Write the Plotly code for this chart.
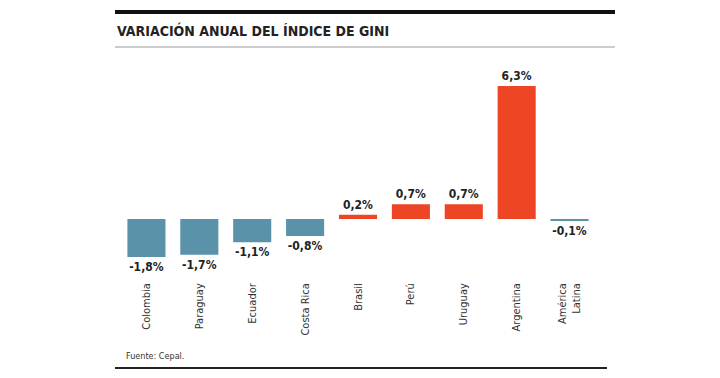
import plotly.graph_objects as go

categories = ["Colombia", "Paraguay", "Ecuador", "Costa Rica", "Brasil", "Perú", "Uruguay", "Argentina", "América<br>Latina"]
values = [-1.8, -1.7, -1.1, -0.8, 0.2, 0.7, 0.7, 6.3, -0.1]
labels = ["-1,8%", "-1,7%", "-1,1%", "-0,8%", "0,2%", "0,7%", "0,7%", "6,3%", "-0,1%"]

BLUE = "#5a92aa"
RED = "#ee4524"
colors = [RED if (v > 0) else BLUE for v in values]

W, H = 720, 378
OFF = 8  # page body margin
ML, PW = 120 - OFF, 476
MT, PB = 70 - OFF, 278 - OFF
PH = PB - MT
ZERO = 219 - OFF
SCALE = 21.1

def px(x):
    return (x - OFF - ML) / PW

def py(y):
    return (PB - (y - OFF)) / PH

COND = "Liberation Sans Narrow, DejaVu Sans Condensed, Roboto Condensed, Arial Narrow, sans-serif"

fig = go.Figure(go.Bar(
    x=categories, y=values, marker=dict(color=colors, line=dict(width=0)),
    text=["<b>%s</b>" % t for t in labels], textposition="outside", cliponaxis=False,
    textfont=dict(family=COND, size=12, color="#222222"),
    width=0.72,
))

fig.update_layout(
    width=W, height=H,
    margin=dict(l=ML, r=W - ML - PW, t=MT, b=H - PB),
    paper_bgcolor="white", plot_bgcolor="white",
    showlegend=False,
    xaxis=dict(tickangle=-90, tickfont=dict(family=COND, size=11, color="#333333"),
               showline=False, showgrid=False, zeroline=False, ticks="",
               ticklabelstandoff=2),
    yaxis=dict(range=[-(PB - ZERO) / SCALE, (ZERO - MT) / SCALE], visible=False),
    shapes=[
        dict(type="line", xref="paper", yref="paper", x0=px(115), x1=px(615), y0=py(12), y1=py(12),
             line=dict(color="#111111", width=4)),
        dict(type="line", xref="paper", yref="paper", x0=px(115), x1=px(615), y0=py(47), y1=py(47),
             line=dict(color="#9a9a9a", width=1)),
        dict(type="line", xref="paper", yref="paper", x0=px(115), x1=px(607), y0=py(368), y1=py(368),
             line=dict(color="#222222", width=2)),
    ],
    annotations=[
        dict(text="<b>VARIACIÓN ANUAL DEL ÍNDICE DE GINI</b>", xref="paper", yref="paper",
             x=px(115), y=py(30), xanchor="left", yanchor="middle", showarrow=False,
             font=dict(family=COND, size=14, color="#222222")),
        dict(text="Fuente: Cepal.", xref="paper", yref="paper",
             x=px(124), y=py(356), xanchor="left", yanchor="middle", showarrow=False,
             font=dict(family=COND, size=9, color="#333333")),
    ],
)

fig.write_html("out.html")
